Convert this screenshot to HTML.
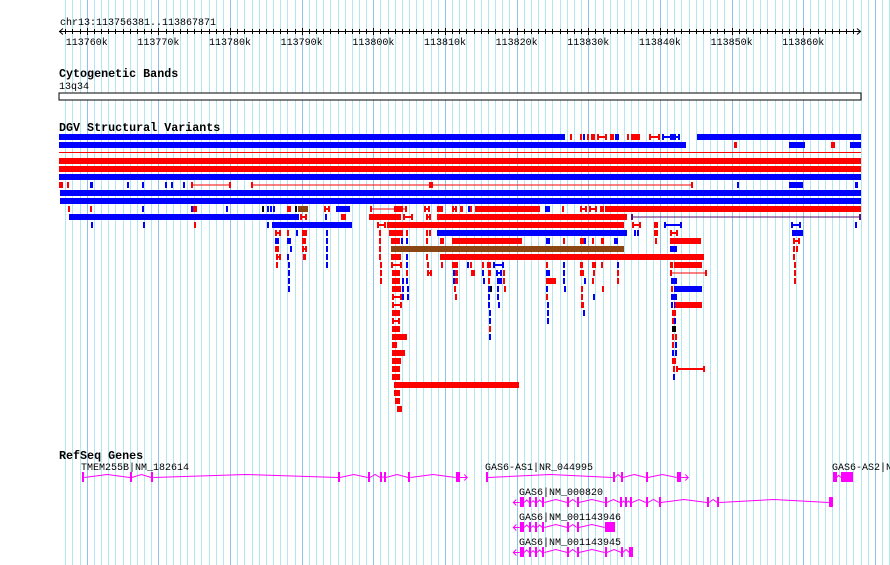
<!DOCTYPE html>
<html><head><meta charset="utf-8"><style>
html,body{margin:0;padding:0;background:#fff;}
svg{display:block;}
text{font-family:"Liberation Mono","DejaVu Sans Mono",monospace;}
</style></head><body>
<svg id="c" width="890" height="565" viewBox="0 0 890 565" xmlns="http://www.w3.org/2000/svg">
<g id="grid"></g>
<text x="60" y="25" font-size="10">chr13:113756381..113867871</text>
<g id="ruler"></g>
<text x="59" y="77" font-size="11.7" font-weight="bold">Cytogenetic Bands</text>
<text x="59" y="89" font-size="10">13q34</text>
<rect x="59" y="93" width="802" height="7" fill="#fff" stroke="#000" stroke-width="1"/>
<text x="59" y="131" font-size="11.7" font-weight="bold">DGV Structural Variants</text>
<g id="dgv"></g>
<text x="59" y="459" font-size="11.7" font-weight="bold">RefSeq Genes</text>
<g id="genes"></g>
</svg>
<script>
// Region
const regionStart = 113756.381; // kb
const regionEnd = 113867.871;
const rulerLabels = [113760,113770,113780,113790,113800,113810,113820,113830,113840,113850,113860];
// DGV features: [row, startKbRel, endKbRel, color, type]
const dgvFeatures = [
[0,0,70.3,'B'],[0,71.0,71.3,'R'],[0,72.4,72.6,'R'],[0,72.8,73.0,'B'],[0,73.3,73.5,'R'],[0,73.9,74.4,'R'],[0,74.7,76.1,'R','h'],[0,76.5,77.1,'R'],[0,77.2,77.8,'B'],[0,78.9,79.1,'R'],[0,79.4,80.7,'R'],[0,81.9,83.5,'R','h'],[0,83.8,86.3,'B','h'],[0,84.9,85.7,'B'],[0,88.6,111.4,'B'],
[1,0,87.1,'B'],[1,93.8,94.2,'R'],[1,101.4,103.6,'B'],[1,107.2,107.8,'R'],[1,109.9,111.4,'B'],
[2,0,111.4,'R','t'],
[3,0,111.4,'R'],[4,0,111.4,'R'],[5,0,111.4,'B'],
[6,0,0.6,'R'],[6,1.1,1.4,'R'],[6,4.3,4.7,'B'],[6,9.4,9.7,'B'],[6,11.5,11.7,'B'],[6,14.7,14.9,'B'],[6,15.6,15.8,'B'],[6,17.2,17.4,'B'],[6,18.3,23.9,'R','l'],[6,26.7,88.1,'R','l'],[6,51.4,51.9,'R'],[6,94.2,94.5,'B'],[6,101.4,103.3,'B'],[6,110.6,111.0,'B'],
[7,0.1,111.4,'B'],[8,0.1,111.4,'B'],
[9,1.3,1.5,'R'],[9,4.3,4.6,'R'],[9,11.5,11.7,'B'],[9,18.3,18.6,'B'],[9,18.6,19.2,'R'],[9,23.2,23.5,'B'],[9,28.2,28.5,'K'],[9,28.9,29.1,'B'],[9,29.3,29.5,'B'],[9,29.7,30.0,'B'],[9,31.7,32.2,'R','h'],[9,32.8,33.0,'K'],[9,33.2,34.6,'N'],[9,36.8,37.6,'R','h'],[9,38.5,40.4,'B'],[9,43.2,48.3,'R','l'],[9,46.5,47.8,'R'],[9,50.7,51.5,'R','h'],[9,52.5,53.3,'R'],[9,54.6,55.3,'R','h'],[9,55.7,56.1,'R'],[9,56.8,57.1,'B'],[9,57.1,57.4,'R'],[9,57.8,66.8,'R'],[9,67.5,68.2,'B'],[9,69.9,70.2,'R'],[9,72.4,73.3,'R','h'],[9,73.6,74.7,'R','h'],[9,75.1,75.7,'R'],[9,75.8,111.4,'R'],
[10,1.4,33.3,'B'],[10,33.5,34.4,'R','h'],[10,36.9,37.1,'B'],[10,39.2,39.9,'R'],[10,43.1,47.5,'R'],[10,47.8,49.2,'R','h'],[10,51.0,51.7,'R','h'],[10,52.5,78.9,'R'],[10,79.4,111.4,'P','l'],
[11,4.4,4.7,'B'],[11,11.7,11.9,'B'],[11,18.8,19.0,'R'],[11,28.9,29.1,'B'],[11,29.6,40.7,'B'],[11,44.2,45.4,'R','h'],[11,45.6,78.5,'R'],[11,79.6,80.8,'R','h'],[11,82.6,83.2,'R'],[11,84.0,86.5,'B','h'],[11,101.7,103.1,'B','h'],[11,110.6,110.9,'B'],
[12,30.0,30.8,'R','h'],[12,31.7,31.9,'R'],[12,32.9,33.2,'B'],[12,33.8,34.4,'R'],[12,37.1,37.4,'B'],[12,44.4,44.7,'R'],[12,45.8,47.8,'R'],[12,48.2,48.5,'R'],[12,51.0,51.2,'R'],[12,51.4,51.7,'R'],[12,52.5,78.9,'B'],[12,79.9,80.1,'B'],[12,80.3,80.6,'B'],[12,82.6,83.2,'R'],[12,84.9,86.0,'R','h'],[12,101.8,103.3,'B'],
[13,30.0,30.6,'B'],[13,31.7,32.2,'B'],[13,33.8,34.3,'R'],[13,37.1,37.4,'B'],[13,44.4,44.6,'R'],[13,46.1,47.4,'R'],[13,47.5,47.8,'B'],[13,48.2,48.4,'B'],[13,51.0,51.2,'R'],[13,52.9,53.5,'R'],[13,54.6,64.3,'R'],[13,67.6,68.2,'B'],[13,70.0,70.3,'R'],[13,72.4,72.9,'R'],[13,72.9,73.2,'B'],[13,74.0,74.3,'R'],[13,75.3,75.7,'R'],[13,77.1,77.6,'B'],[13,82.8,83.1,'R'],[13,84.9,89.2,'R'],[13,101.9,102.9,'R','h'],
[14,30.0,30.6,'R'],[14,32.1,32.4,'B'],[14,33.8,34.4,'R','h'],[14,37.1,37.4,'B'],[14,44.4,44.7,'R'],[14,46.1,78.5,'N'],[14,84.9,85.8,'B'],[14,101.9,102.2,'R'],[14,102.4,102.6,'R'],
[15,30.1,30.8,'R','h'],[15,31.7,31.9,'B'],[15,33.9,34.3,'R'],[15,37.1,37.4,'B'],[15,44.4,44.7,'R'],[15,46.1,47.5,'R'],[15,48.2,48.5,'B'],[15,51.0,51.2,'R'],[15,52.9,89.6,'R'],[15,101.9,102.2,'R'],
[16,30.1,30.4,'R'],[16,31.8,32.1,'B'],[16,37.1,37.4,'B'],[16,44.6,44.9,'R'],[16,46.1,47.6,'R','h'],[16,48.2,48.5,'B'],[16,51.1,51.4,'R'],[16,53.1,53.3,'R'],[16,54.6,55.4,'R'],[16,56.7,56.9,'B'],[16,57.1,57.4,'R'],[16,58.8,59.0,'R'],[16,59.4,60.0,'R'],[16,60.3,61.8,'B','h'],[16,67.6,67.9,'R'],[16,70.0,70.3,'B'],[16,72.4,72.8,'R','h'],[16,74.0,74.6,'R'],[16,75.3,75.6,'R'],[16,77.5,77.8,'B'],[16,84.9,85.3,'R'],[16,85.4,89.3,'R'],[16,102.1,102.4,'R'],
[17,31.8,32.1,'B'],[17,44.6,44.9,'R'],[17,46.3,47.4,'R'],[17,48.2,48.5,'R'],[17,51.1,51.8,'R','h'],[17,54.7,55.0,'B'],[17,55.0,55.4,'R'],[17,57.2,57.8,'R'],[17,58.8,59.0,'B'],[17,59.6,60.0,'R'],[17,60.7,61.5,'B','h'],[17,61.7,61.9,'R'],[17,67.6,68.2,'B'],[17,70.0,70.3,'B'],[17,72.4,72.9,'R'],[17,74.2,74.4,'R'],[17,77.5,77.8,'R'],[17,84.9,90.0,'R','l'],[17,102.1,102.4,'R'],
[18,31.8,32.1,'B'],[18,44.6,44.9,'R'],[18,46.3,47.4,'R'],[18,47.6,47.9,'B'],[18,48.2,48.5,'B'],[18,54.7,55.0,'B'],[18,55.0,55.4,'R'],[18,58.9,59.2,'B'],[18,59.6,59.9,'R'],[18,60.8,61.5,'B'],[18,61.7,61.9,'R'],[18,67.6,69.0,'R'],[18,70.0,70.3,'B'],[18,72.9,73.2,'B'],[18,74.0,74.3,'R'],[18,77.5,77.8,'R'],[18,85.0,85.8,'B'],[18,102.1,102.4,'R'],
[19,31.8,32.1,'B'],[19,46.3,47.5,'R'],[19,47.6,47.9,'B'],[19,48.3,48.6,'B'],[19,54.9,55.1,'R'],[19,59.6,59.9,'B'],[19,59.9,60.1,'K'],[19,60.8,61.1,'B'],[19,61.8,62.1,'R'],[19,67.6,67.9,'B'],[19,70.1,70.3,'B'],[19,72.5,72.8,'R'],[19,75.4,75.7,'R'],[19,85.0,85.3,'R'],[19,85.4,89.3,'B'],
[20,46.3,47.6,'R','h'],[20,47.6,47.9,'B'],[20,48.4,48.6,'B'],[20,55.0,55.3,'R'],[20,59.6,59.9,'B'],[20,60.8,61.1,'B'],[20,67.6,67.9,'R'],[20,72.5,72.8,'R'],[20,74.1,74.3,'B'],[20,85.0,85.8,'B'],
[21,46.3,47.6,'R','h'],[21,59.6,59.9,'B'],[21,61.0,61.3,'B'],[21,67.8,68.1,'B'],[21,72.5,72.9,'R'],[21,85.0,85.3,'B'],[21,85.4,85.6,'B'],[21,85.6,89.3,'R'],
[22,46.3,47.4,'R'],[22,59.7,60.0,'B'],[22,67.8,68.1,'B'],[22,72.8,73.1,'B'],[22,85.1,85.7,'R'],
[23,46.3,47.4,'R','h'],[23,59.7,60.0,'B'],[23,67.8,68.1,'B'],[23,85.1,85.4,'R'],[23,85.4,85.7,'B'],
[24,46.3,47.4,'R'],[24,59.7,60.0,'R'],[24,85.1,85.7,'K'],
[25,46.3,48.3,'R'],[25,59.7,60.0,'B'],[25,85.1,85.4,'R'],[25,85.5,85.8,'R'],
[26,46.3,46.9,'R'],[26,85.1,85.4,'R'],[26,85.5,85.8,'B'],
[27,46.3,48.1,'R'],[27,85.1,85.4,'B'],[27,85.5,85.8,'B'],
[28,46.3,47.5,'R'],[28,85.1,85.7,'R'],
[29,46.3,47.4,'R'],[29,85.3,85.6,'R'],[29,85.7,89.7,'R','h'],
[30,46.3,47.4,'R'],[30,85.3,85.6,'B'],
[31,46.5,63.9,'R'],[32,46.5,47.4,'R'],[33,46.7,47.4,'R'],[34,46.9,47.6,'R']
];
// Genes
const geneNames = ['TMEM255B|NM_182614','GAS6-AS1|NR_044995','GAS6-AS2|NR_044996','GAS6|NM_000820','GAS6|NM_001143946','GAS6|NM_001143945'];
const geneRows = [0,0,0,1,2,3];
const geneStrand = [1,1,0,-1,-1,-1];
const geneSpan = [[3.2,56.7],[59.3,87.4],[107.5,110.3],[63.1,107.5],[63.1,77.2],[63.1,79.7]];
const geneExons = [
 [[3.2,3.5],[9.9,10.1],[12.8,13.1],[38.8,39.0],[42.9,43.2],[44.6,44.9],[45.1,45.4],[48.5,48.8],[55.1,55.7]],
 [[59.3,59.6],[76.9,77.2],[78.1,78.3],[81.5,81.8],[85.8,86.4]],
 [[107.5,108.0],[108.6,110.3]],
 [[64.0,64.6],[65.3,65.6],[66.1,66.4],[67.1,67.4],[70.6,70.8],[71.9,72.2],[75.8,76.1],[77.9,78.2],[78.6,78.9],[79.3,79.6],[81.5,81.8],[83.3,83.6],[90.0,90.3],[91.4,91.7],[106.9,107.5]],
 [[64.0,64.6],[65.3,65.6],[66.1,66.4],[67.1,67.4],[70.6,70.8],[71.9,72.2],[75.8,77.2]],
 [[64.0,64.6],[65.3,65.6],[66.1,66.4],[67.1,67.4],[70.6,70.8],[71.9,72.2],[75.8,76.1],[78.1,78.3],[79.2,79.7]]
];
const NS='http://www.w3.org/2000/svg';
const X0=59, PXKB=7.2;
function fx(kb){return X0+kb*PXKB;}
function gx(absKb){return 60.8+(absKb-regionStart)*7.165;}
function mk(tag,attrs,parent){const e=document.createElementNS(NS,tag);for(const k in attrs)e.setAttribute(k,attrs[k]);parent.appendChild(e);return e;}
const COL={R:'#ff0000',B:'#0000ff',K:'#000000',N:'#8b4513',P:'#5a0f73'};
// grid
const grid=document.getElementById('grid');
for(let k=113757;k<=113872;k++){
  const x=Math.round(gx(k))+0.5;
  if(x>890)break;
  const major=k%10===0;
  const ln=mk('line',{x1:x,x2:x,y1:0,y2:565,stroke:major?'#8fc3ea':'#b3e7ef','stroke-width':1},grid);
  
  
}
// ruler
const ruler=document.getElementById('ruler');
const axl=mk('line',{x1:59,x2:861,y1:31.5,y2:31.5,stroke:'#000'},ruler);


mk('path',{d:'M63,28.5 L59.5,31.5 L63,34.5 M857,28.5 L860.5,31.5 L857,34.5',stroke:'#000',fill:'none'},ruler);
for(let k=113757;k<=113867;k++){
  const x=Math.round(gx(k))+0.5;
  const major=k%10===0;
  const t=mk('line',{x1:x,x2:x,y1:major?28:29,y2:major?35:34,stroke:'#000'},ruler);
  
  
}
rulerLabels.forEach(k=>{
  const t=mk('text',{x:gx(k),y:45,'font-size':10,'text-anchor':'middle'},ruler);
  t.textContent=k+'k';
  
  
});
// DGV
const dgv=document.getElementById('dgv');
dgvFeatures.forEach(f=>{
  const [row,s,e,c,type]=f;
  const y=134+row*8;
  const x1=Math.round(fx(s)), x2=Math.max(Math.round(fx(e)),x1+2);
  const col=COL[c];
  const g=mk('g',{},dgv);
  
  
  if(type==='t'){
    mk('rect',{x:x1,y:y+2,width:x2-x1,height:1,fill:col},g);
  }else if(type==='h'||type==='l'){
    mk('rect',{x:x1,y:y,width:2,height:6,fill:col},g);
    mk('rect',{x:x2-2,y:y,width:2,height:6,fill:col},g);
    mk('rect',{x:x1,y:y+(type==='h'?2:2.5),width:x2-x1,height:type==='h'?2:1,fill:col},g);
  }else{
    mk('rect',{x:x1,y:y,width:x2-x1,height:6,fill:col},g);
  }
});
// genes
const genes=document.getElementById('genes');
const MAG='#ff00ff';
geneNames.forEach((name,i)=>{
  const yc=477+geneRows[i]*25;
  const g=mk('g',{},genes);
  
  
  const lx=geneStrand[i]<0?fx(geneExons[i][0][0]):fx(geneSpan[i][0]);
  const t=mk('text',{x:Math.round(lx)-1,y:yc-7,'font-size':10,fill:'#000'},g);
  t.textContent=name;
  const ex=geneExons[i];
  let pts=[];
  for(let j=0;j<ex.length-1;j++){
    const a=fx(ex[j][1]), b=fx(ex[j+1][0]);
    const h=Math.min(3,(b-a)/2);
    pts.push('M'+a+','+(yc+0.5)+' L'+((a+b)/2)+','+(yc+0.5-h)+' L'+b+','+(yc+0.5));
  }
  if(geneStrand[i]>0){
    const a=fx(ex[ex.length-1][1]), b=fx(geneSpan[i][1]);
    pts.push('M'+a+','+(yc+0.5)+' L'+b+','+(yc+0.5)+' M'+(b-3)+','+(yc-2.5)+' L'+b+','+(yc+0.5)+' L'+(b-3)+','+(yc+3.5));
  }else if(geneStrand[i]<0){
    const a=fx(geneSpan[i][0]), b=fx(ex[0][0]);
    pts.push('M'+a+','+(yc+0.5)+' L'+b+','+(yc+0.5)+' M'+(a+3)+','+(yc-2.5)+' L'+a+','+(yc+0.5)+' L'+(a+3)+','+(yc+3.5));
  }
  mk('path',{d:pts.join(' '),stroke:MAG,'stroke-width':1,fill:'none'},g);
  ex.forEach(e=>{
    const x1=Math.round(fx(e[0])), x2=Math.max(Math.round(fx(e[1])),x1+2);
    const r=mk('rect',{x:x1,y:yc-5,width:x2-x1,height:10,fill:MAG},g);
    
    
  });
});
</script>
</body></html>
